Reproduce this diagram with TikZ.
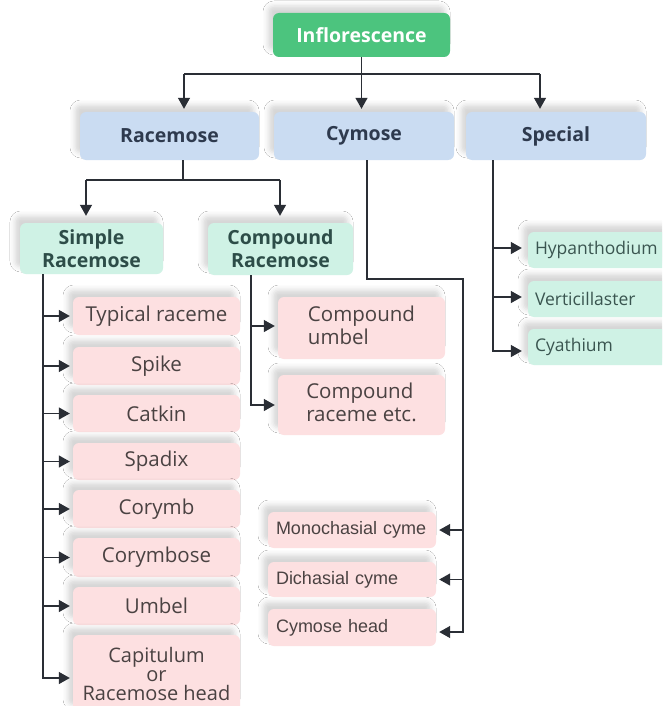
\documentclass[tikz,border=0pt]{standalone}
\usepackage{fontspec}
\setmainfont{Open Sans}
\newfontfamily\narrowfont{Liberation Sans}
\usetikzlibrary{arrows.meta,shadows.blur,calc}
\definecolor{infgreen}{HTML}{4CC47E}
\definecolor{lblue}{HTML}{CADCF2}
\definecolor{mintb}{HTML}{CFF2E5}
\definecolor{pinkb}{HTML}{FDE0E1}
\definecolor{slate}{HTML}{2E3A4E}
\definecolor{mintdark}{HTML}{2D4D48}
\definecolor{ptext}{HTML}{4A4242}
\definecolor{mtext}{HTML}{3A5550}
\definecolor{lnc}{HTML}{2A2E35}
\tikzset{
  base/.style={rounded corners=6pt, inner sep=0pt,
    blur shadow={shadow xshift=-5pt, shadow yshift=7pt, shadow blur radius=5pt, shadow opacity=16}},
  topbox/.style={base, fill=infgreen, text=white, font=\fontsize{19.5}{23}\selectfont\bfseries},
  catbox/.style={base, fill=lblue, text=slate, font=\fontsize{19.5}{23}\selectfont\bfseries, minimum height=48pt},
  subbox/.style={base, fill=mintb, text=mintdark, font=\fontsize{19.5}{23}\selectfont\bfseries, align=center},
  pbox/.style={base, fill=pinkb, text=ptext, font=\fontsize{20.5}{23}\selectfont, minimum width=167pt, align=center},
  mbox/.style={base, fill=mintb, text=mtext, font=\fontsize{17.5}{22}\selectfont, text width=130pt, inner xsep=7pt, align=left, minimum height=36pt},
  cbox/.style={base, fill=pinkb, text=ptext, font=\narrowfont\fontsize{18}{22}\selectfont, text width=152pt, inner xsep=8pt, align=left, minimum height=36pt},
  conn/.style={draw=lnc, line width=1.3pt},
  arr/.style={conn, -{Triangle[length=11pt,width=12pt]}, shorten >=3pt},
}
\begin{document}
\begin{tikzpicture}[x=1pt,y=-1pt]
\fill[white] (0,0) rectangle (662,706);
\clip (0,0) rectangle (662,706);
% level 0 and 1
\node[topbox, minimum width=177pt, minimum height=44pt] (infl) at (361.5,35) {Inflorescence};
\node[catbox, minimum width=179pt] (race) at (169.5,136) {Racemose};
\node[catbox, minimum width=180pt] (cyme) at (364,136) {Cymose};
\node[catbox, minimum width=180pt] (spec) at (556,136) {Special};
% level 2
\node[subbox, minimum width=143pt, minimum height=51pt] (srace) at (91.5,248.5) {Simple\\Racemose};
\node[subbox, minimum width=145pt, minimum height=52pt] (crace) at (280.5,249) {Compound\\Racemose};
% simple racemose items
\node[pbox, minimum height=38pt] (typ) at (156.5,316) {Typical raceme};
\node[pbox, minimum height=38pt] (spike) at (156.5,366) {Spike};
\node[pbox, minimum height=37pt] (catkin) at (156.5,413.5) {Catkin};
\node[pbox, minimum height=37pt] (spadix) at (156.5,461.5) {Spadix};
\node[pbox, minimum height=38pt] (corymb) at (156.5,509) {Corymb};
\node[pbox, minimum height=39pt] (corymbose) at (156.5,557.5) {Corymbose};
\node[pbox, minimum height=38pt] (umbel) at (156.5,606) {Umbel};
\node[pbox, minimum height=77pt, font=\fontsize{20}{19}\selectfont] (capit) at (156.5,673.5) {Capitulum\\or\\Racemose head};
% compound racemose items
\node[pbox, minimum height=62pt] (cumbel) at (361.5,328) {\begin{tabular}{@{}l@{}}Compound\\umbel\end{tabular}};
\node[pbox, minimum height=60pt] (craceme) at (361.5,405) {\begin{tabular}{@{}l@{}}Compound\\raceme etc.\end{tabular}};
% special items
\node[mbox] (hyp) at (600,250) {Hypanthodium};
\node[mbox] (vert) at (600,299) {Verticillaster};
\node[mbox] (cyath) at (600,347) {Cyathium};
% cymose items
\node[cbox] (mono) at (352,530) {Monochasial cyme};
\node[cbox, minimum height=35pt] (dich) at (352,579.5) {Dichasial cyme};
\node[cbox, minimum height=37pt] (chead) at (352,627.5) {Cymose head};
% connectors from Inflorescence
\coordinate (hl) at (184,74);
\coordinate (hr) at (540,74);
\draw[arr] (infl.south) -- (infl.south |- cyme.north);
\draw[conn] (hl) -- (hr);
\draw[arr] (hl) -- (hl |- race.north);
\draw[arr] (hr) -- (hr |- spec.north);
% Racemose split
\coordinate (rj) at (183,180);
\coordinate (rl) at (86,180);
\coordinate (rr) at (280,180);
\draw[conn] (race.south -| rj) -- (rj);
\draw[conn] (rl) -- (rr);
\draw[arr, shorten >=7pt] (rl) -- (rl |- srace.north);
\draw[arr, shorten >=7pt] (rr) -- (rr |- crace.north);
% Simple racemose list
\coordinate (sv) at (43,0);
\draw[arr] (srace.south -| sv) |- ($(capit.west)+(0,4.5)$);
\foreach \n in {typ,spike,catkin,spadix,corymb,corymbose,umbel}
  \draw[arr] (sv |- \n.west) -- (\n.west);
% Compound racemose list
\coordinate (cv) at (251,0);
\draw[arr] (crace.south -| cv) |- (craceme.west);
\draw[arr] ($(cv |- cumbel.west)+(0,-2)$) -- ($(cumbel.west)+(0,-2)$);
% Cymose list
\coordinate (cyv) at (367,279);
\coordinate (cyr) at (463,279);
\draw[arr] (cyme.south -| cyv) -- (cyv) -- (cyr) |- ($(chead.east)+(0,4.5)$);
\draw[arr] (cyr |- mono.east) -- (mono.east);
\draw[arr] (cyr |- dich.east) -- (dich.east);
% Special list
\coordinate (spv) at (493,0);
\draw[arr, shorten >=6pt] (spec.south -| spv) |- ($(cyath.west)+(0,4)$);
\draw[arr, shorten >=6pt] ($(spv |- hyp.west)+(0,-2)$) -- ($(hyp.west)+(0,-2)$);
\draw[arr, shorten >=6pt] ($(spv |- vert.west)+(0,-2)$) -- ($(vert.west)+(0,-2)$);
\end{tikzpicture}
\end{document}
